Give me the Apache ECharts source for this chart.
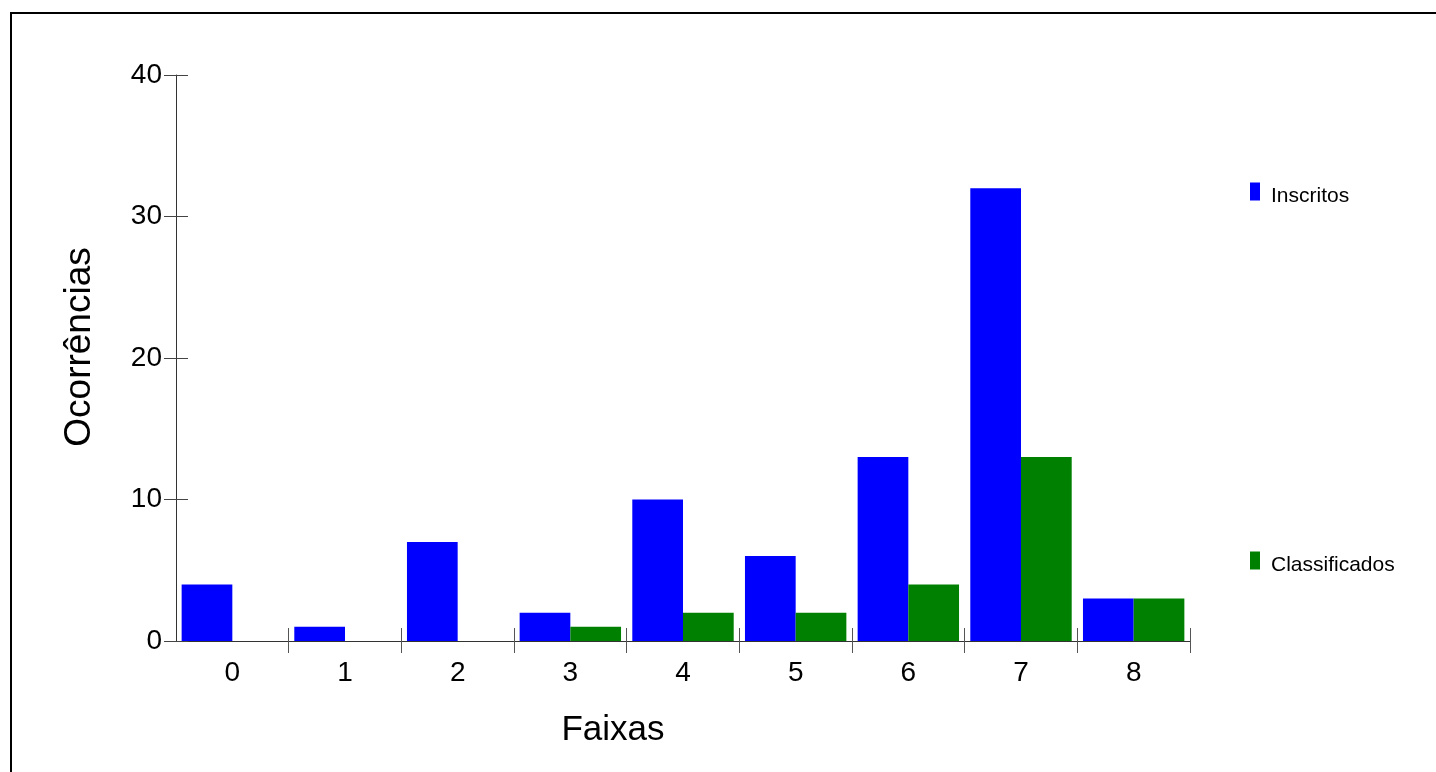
<!DOCTYPE html>
<html>
<head>
<meta charset="utf-8">
<script src="https://cdn.jsdelivr.net/npm/echarts@6/dist/echarts.min.js"></script>
<style>
html,body{margin:0;padding:0;background:#fff;}
#chart{width:1436px;height:772px;}
</style>
</head>
<body>
<div id="chart"></div>
<script>
const categories = ['0','1','2','3','4','5','6','7','8'];
const inscritos = [4, 1, 7, 2, 10, 6, 13, 32, 3];
const classificados = [0, 0, 0, 1, 2, 2, 4, 13, 3];
const yTicks = {min: 0, max: 40, interval: 10};
const seriesNames = ['Inscritos', 'Classificados'];
const xTitle = 'Faixas';
const yTitle = 'Ocorrências';

const FONT = '"Liberation Sans", Arial, sans-serif';
const chart = echarts.init(document.getElementById('chart'));

const legendText = {
  color: '#000', fontFamily: FONT, fontSize: 21,
  rich: {
    s: {height: 30, width: 6, fontSize: 21},
    a: {fontSize: 21, color: '#000', fontFamily: FONT, verticalAlign: 'bottom', lineHeight: 22}
  }
};
const legendFmt = function (name) { return '{s|}{a|' + name + '}'; };

chart.setOption({
  animation: false,
  backgroundColor: '#fff',
  textStyle: {fontFamily: FONT},
  grid: {left: 176, right: 246, top: 75, bottom: 131, containLabel: false},
  graphic: [
    {type: 'rect', shape: {x: 11, y: 13, width: 1600, height: 900}, style: {fill: 'none', stroke: '#000', lineWidth: 2}, silent: true},
    {type: 'text', x: 80, y: 347, rotation: Math.PI / 2,
      style: {text: yTitle, font: '37px ' + FONT, fill: '#000', textAlign: 'center', textVerticalAlign: 'middle'}},
    {type: 'text', x: 613, y: 730,
      style: {text: xTitle, font: '35px ' + FONT, fill: '#000', textAlign: 'center', textVerticalAlign: 'middle'}}
  ],
  legend: [
    {data: [seriesNames[0]], orient: 'vertical', left: 1250, top: 181, padding: 0,
      itemWidth: 10, itemHeight: 18, icon: 'rect', formatter: legendFmt, textStyle: legendText},
    {data: [seriesNames[1]], orient: 'vertical', left: 1250, top: 550, padding: 0,
      itemWidth: 10, itemHeight: 18, icon: 'rect', formatter: legendFmt, textStyle: legendText}
  ],
  xAxis: [
    {type: 'category', data: categories, boundaryGap: true,
      axisLine: {show: true, lineStyle: {color: '#333', width: 1}},
      axisTick: {show: true, length: 12, inside: false, interval: function (i) { return i !== 0; }, lineStyle: {color: '#555'}},
      axisLabel: {fontSize: 28, color: '#000', margin: 18, fontFamily: FONT},
      splitLine: {show: false}},
    {type: 'category', data: categories, boundaryGap: true, position: 'bottom',
      axisLine: {show: false},
      axisTick: {show: true, length: 13, inside: true, interval: function (i) { return i !== 0; }, lineStyle: {color: '#555'}},
      axisLabel: {show: false}, splitLine: {show: false}}
  ],
  yAxis: [
    {type: 'value', min: yTicks.min, max: yTicks.max, interval: yTicks.interval,
      axisLine: {show: true, lineStyle: {color: '#333', width: 1}},
      axisTick: {show: true, length: 12, inside: false, lineStyle: {color: '#444'}},
      axisLabel: {fontSize: 28, color: '#000', margin: 14, fontFamily: FONT},
      splitLine: {show: false}},
    {type: 'value', min: yTicks.min, max: yTicks.max, interval: yTicks.interval, position: 'left',
      axisLine: {show: false},
      axisTick: {show: true, length: 12, inside: true, lineStyle: {color: '#444'}},
      axisLabel: {show: false}, splitLine: {show: false}}
  ],
  series: [
    {name: seriesNames[0], type: 'bar', data: inscritos, xAxisIndex: 0, yAxisIndex: 0,
      barGap: '0%', barCategoryGap: '10%',
      itemStyle: {color: '#0000ff'}},
    {name: seriesNames[1], type: 'bar', data: classificados, xAxisIndex: 0, yAxisIndex: 0,
      barGap: '0%', barCategoryGap: '10%',
      itemStyle: {color: '#008000'}}
  ]
});
</script>
</body>
</html>
